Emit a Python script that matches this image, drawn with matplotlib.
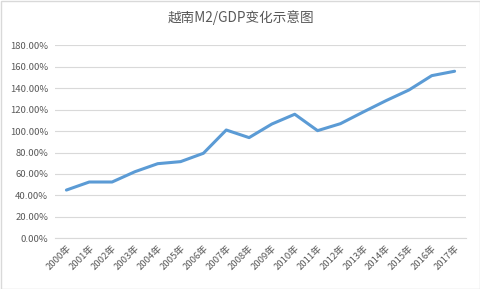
import matplotlib
matplotlib.use("Agg")
import matplotlib.pyplot as plt
from matplotlib.patches import Rectangle
from matplotlib.ticker import FuncFormatter

plt.rcParams['font.family'] = ['Noto Sans CJK SC', 'DejaVu Sans']

years = [f"{y}年" for y in range(2000, 2018)]
m2_gdp = [0.450, 0.525, 0.525, 0.621, 0.696, 0.715, 0.793, 1.010, 0.939,
          1.066, 1.157, 1.004, 1.069, 1.178, 1.284, 1.383, 1.517, 1.558]

fig = plt.figure(figsize=(4.81, 2.89), dpi=100)
ax = fig.add_axes([55 / 481, 50.7 / 289, 411 / 481, 193 / 289])

x = list(range(len(years)))
ax.plot(x, m2_gdp, color='#5B9BD5', linewidth=2.2, solid_joinstyle='round',
        solid_capstyle='round')

ax.set_xlim(-0.5, len(years) - 0.5)
ax.set_ylim(0, 1.8)
ax.set_yticks([i * 0.2 for i in range(10)])
ax.yaxis.set_major_formatter(FuncFormatter(lambda v, p: f"{v * 100:.2f}%"))
ax.set_xticks(x)
ax.set_xticklabels(years, rotation=45, ha='right', rotation_mode='anchor')

ax.grid(axis='y', color='#D9D9D9', linewidth=0.8)
ax.set_axisbelow(True)
for s in ['top', 'right', 'left']:
    ax.spines[s].set_visible(False)
ax.spines['bottom'].set_color('#D9D9D9')
ax.spines['bottom'].set_linewidth(0.8)
ax.tick_params(axis='both', length=0, labelsize=6.8, colors='#595959')
ax.tick_params(axis='y', pad=5)
ax.tick_params(axis='x', pad=4)

fig.text(0.5, 1 - 18 / 289, "越南M2/GDP变化示意图", ha='center', va='center',
         fontsize=9.8, color='#595959')

fig.patches.append(Rectangle((0.5 / 481, 0.5 / 289), 479.5 / 481, 287.5 / 289,
                             transform=fig.transFigure, fill=False,
                             edgecolor='#D9D9D9', linewidth=1))

fig.savefig('out.png', dpi=100)
